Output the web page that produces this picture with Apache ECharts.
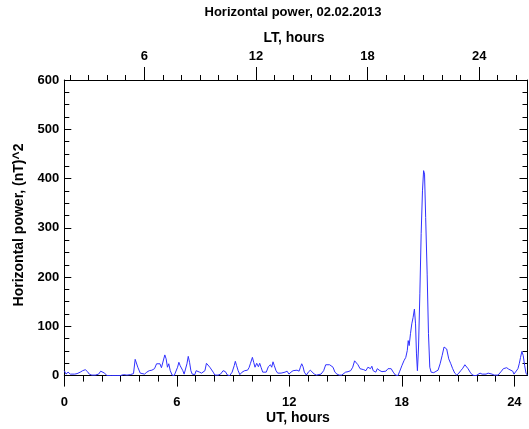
<!DOCTYPE html>
<html>
<head>
<meta charset="utf-8">
<script src="https://cdn.jsdelivr.net/npm/echarts@6/dist/echarts.min.js"></script>
<style>html,body{margin:0;padding:0;background:#fff}#c{width:529px;height:429px}</style>
</head>
<body>
<div id="c"></div>
<script>
// UT hours and horizontal power (nT)^2
const ut = [0.00,0.09,0.20,0.32,0.41,0.55,0.68,0.85,0.98,1.12,1.24,1.33,1.47,1.65,1.83,1.94,2.04,2.15,2.27,2.54,2.81,2.89,2.98,3.16,3.34,3.52,3.69,3.78,3.92,4.05,4.14,4.28,4.40,4.53,4.67,4.81,4.92,5.00,5.10,5.18,5.27,5.36,5.43,5.50,5.57,5.65,5.75,5.86,5.93,6.04,6.11,6.18,6.25,6.32,6.39,6.46,6.54,6.61,6.68,6.75,6.82,6.89,6.96,7.03,7.10,7.21,7.32,7.42,7.50,7.58,7.67,7.76,7.85,7.94,8.03,8.20,8.33,8.47,8.59,8.70,8.82,8.95,9.06,9.12,9.19,9.27,9.36,9.48,9.62,9.77,9.85,9.92,10.03,10.10,10.17,10.26,10.35,10.42,10.49,10.58,10.67,10.77,10.88,10.99,11.06,11.13,11.20,11.29,11.38,11.47,11.56,11.64,11.77,11.88,11.98,12.09,12.20,12.30,12.41,12.52,12.59,12.66,12.73,12.80,12.91,13.01,13.12,13.22,13.33,13.44,13.54,13.69,13.83,13.94,14.04,14.15,14.22,14.33,14.43,14.54,14.66,14.79,14.88,15.00,15.13,15.27,15.38,15.48,15.57,15.66,15.77,15.87,15.97,16.08,16.19,16.26,16.33,16.40,16.47,16.54,16.61,16.69,16.76,16.83,16.94,17.04,17.15,17.26,17.36,17.43,17.54,17.66,17.79,17.89,18.00,18.11,18.21,18.29,18.34,18.39,18.46,18.53,18.60,18.67,18.73,18.78,18.83,18.89,18.96,19.03,19.10,19.16,19.21,19.27,19.35,19.42,19.49,19.56,19.63,19.70,19.79,19.93,20.04,20.15,20.25,20.32,20.39,20.50,20.61,20.71,20.82,20.93,21.04,21.14,21.25,21.36,21.43,21.53,21.64,21.74,21.85,21.96,22.06,22.17,22.28,22.38,22.49,22.60,22.70,22.81,22.92,23.02,23.13,23.23,23.31,23.41,23.50,23.59,23.70,23.80,23.91,23.98,24.08,24.19,24.26,24.33,24.40,24.47,24.55,24.62,24.69];
const power = [10,3,7,3,5,3,4,7,10,12,8,3,1,1,3,9,8,5,0,0,0,3,0,2,1,2,4,33,17,5,1,3,7,10,11,14,24,20,24,16,13,42,34,17,24,10,1,0,3,17,27,20,24,10,3,7,24,39,27,10,3,5,2,10,9,7,5,1,10,25,24,17,13,7,1,1,3,10,8,1,0,7,20,29,20,10,2,7,10,11,16,24,37,27,17,25,18,25,17,7,3,7,18,22,17,28,20,10,5,1,5,3,7,9,3,7,10,7,11,9,17,24,18,7,1,7,11,9,3,1,0,3,10,22,24,22,25,17,7,3,1,1,5,7,8,10,17,30,27,22,14,13,12,10,17,20,14,19,10,12,7,14,16,10,8,6,9,14,17,14,7,1,0,9,20,30,37,51,71,61,85,105,118,135,105,44,10,58,166,288,375,416,409,321,206,85,17,7,10,6,9,11,24,41,58,60,54,34,24,14,5,1,5,10,15,22,20,14,7,2,0,0,2,5,3,2,3,5,3,3,1,1,1,2,9,14,11,16,13,11,9,3,5,14,24,37,49,41,20,5,1];

const utMajor = [0,6,12,18,24];
const utMinor = [1,2,3,4,5,7,8,9,10,11,13,14,15,16,17,19,20,21,22,23];
const ltMajor = [6,12,18,24];
const ltMinor = [2,3,4,5,7,8,9,10,11,13,14,15,16,17,19,20,21,22,23,25,26];
const utRange = [0, 24.7];
const ltRange = [1.7, 26.6];
const yRange = [0, 600];

const FONT = "'Liberation Sans', Arial, sans-serif";
const lbl = {color:'#000', fontWeight:'bold', fontSize:13, fontFamily:FONT};
const black = {color:'#000', width:1};

const chart = echarts.init(document.getElementById('c'), null, {renderer:'canvas'});
chart.setOption({
  animation:false,
  backgroundColor:'#fff',
  grid:{left:64.3, right:1.5, top:80, bottom:53.4, containLabel:false},
  xAxis:[
    {type:'value', position:'bottom', min:utRange[0], max:utRange[1],
     axisLine:{show:true, onZero:false, lineStyle:black},
     axisTick:{show:true, inside:false, length:11, lineStyle:black, customValues:utMajor},
     axisLabel:Object.assign({margin:20, customValues:utMajor}, lbl),
     splitLine:{show:false}},
    {type:'value', position:'bottom', min:utRange[0], max:utRange[1],
     axisLine:{show:false, onZero:false},
     axisTick:{show:true, inside:false, length:6, lineStyle:black, customValues:utMinor},
     axisLabel:{show:false}, splitLine:{show:false}},
    {type:'value', position:'top', min:ltRange[0], max:ltRange[1],
     axisLine:{show:true, onZero:false, lineStyle:black},
     axisTick:{show:true, inside:false, length:13, lineStyle:black, customValues:ltMajor},
     axisLabel:Object.assign({margin:17, customValues:ltMajor}, lbl),
     splitLine:{show:false}},
    {type:'value', position:'top', min:ltRange[0], max:ltRange[1],
     axisLine:{show:false, onZero:false},
     axisTick:{show:true, inside:false, length:5, lineStyle:black, customValues:ltMinor},
     axisLabel:{show:false}, splitLine:{show:false}}
  ],
  yAxis:[
    {type:'value', position:'left', min:yRange[0], max:yRange[1], interval:100,
     axisLine:{show:true, onZero:false, lineStyle:black},
     axisTick:{show:true, inside:true, length:7, lineStyle:black},
     minorTick:{show:true, splitNumber:4, length:5, lineStyle:{color:'#000', width:1}},
     axisLabel:Object.assign({margin:5}, lbl),
     splitLine:{show:false}, minorSplitLine:{show:false}},
    {type:'value', position:'right', min:yRange[0], max:yRange[1], interval:100,
     axisLine:{show:true, onZero:false, lineStyle:black},
     axisTick:{show:true, inside:true, length:8, lineStyle:black},
     minorTick:{show:true, splitNumber:4, length:5, lineStyle:{color:'#000', width:1}},
     axisLabel:{show:false},
     splitLine:{show:false}, minorSplitLine:{show:false}}
  ],
  graphic:[
    {type:'text', x:293, y:12, style:{text:'Horizontal power, 02.02.2013', font:"bold 13px "+FONT, fill:'#000', align:'center', verticalAlign:'middle'}},
    {type:'text', x:294, y:38, style:{text:'LT, hours', font:"bold 14px "+FONT, fill:'#000', align:'center', verticalAlign:'middle'}},
    {type:'text', x:298, y:418, style:{text:'UT, hours', font:"bold 14px "+FONT, fill:'#000', align:'center', verticalAlign:'middle'}},
    {type:'text', x:19, y:225, rotation:Math.PI/2, style:{text:'Horizontal power, (nT)^2', font:"bold 14px "+FONT, fill:'#000', align:'center', verticalAlign:'middle'}}
  ],
  series:[{
    type:'line', xAxisIndex:0, yAxisIndex:0,
    data: ut.map((t,i)=>[t, power[i]]),
    showSymbol:false, symbol:'none', smooth:false, clip:true,
    lineStyle:{color:'#3030ff', width:1}
  }]
});
</script>
</body>
</html>
